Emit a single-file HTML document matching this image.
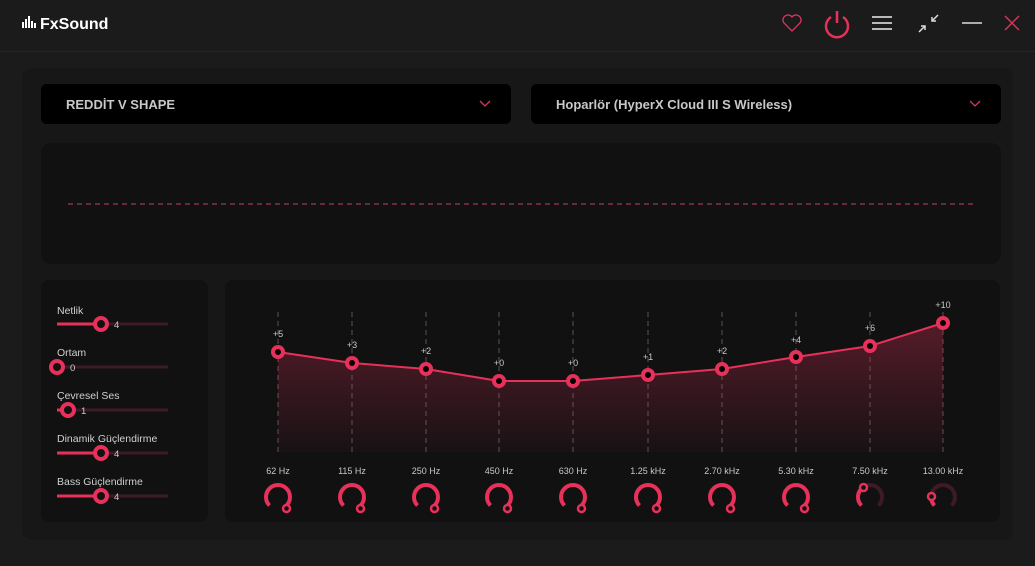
<!DOCTYPE html>
<html><head><meta charset="utf-8"><style>
html,body{margin:0;padding:0;background:#1b1b1c;}
body{width:1035px;height:561px;overflow:hidden;font-family:"Liberation Sans","DejaVu Sans",sans-serif;}
</style></head><body>
<svg width="1035" height="561" viewBox="0 0 1035 561" xmlns="http://www.w3.org/2000/svg" font-family="Liberation Sans, DejaVu Sans, sans-serif">
<defs>
<linearGradient id="g" x1="0" y1="0" x2="0" y2="1">
<stop offset="0" stop-color="#e8315a" stop-opacity="0.32"/>
<stop offset="1" stop-color="#e8315a" stop-opacity="0.03"/>
</linearGradient>
</defs>
<rect width="1035" height="561" fill="#1b1b1c"/>
<rect x="0" y="51" width="1035" height="1" fill="#262627"/>
<!-- logo -->
<g fill="#fff"><rect x="22" y="22" width="2" height="6"/><rect x="25" y="19" width="2" height="9"/><rect x="28" y="16" width="2" height="12"/><rect x="31" y="21" width="2" height="7"/><rect x="34" y="23" width="2" height="5"/></g>
<text x="40" y="29" fill="#fff" font-size="16" font-weight="bold">FxSound</text>
<!-- top icons -->
<path d="M792 31 L784 23 A4.5 4.5 0 0 1 792 17 A4.5 4.5 0 0 1 800 23 Z" fill="none" stroke="#d8355c" stroke-width="1.3"/>
<path d="M831 17 A11 11 0 1 0 843 17" fill="none" stroke="#e8315a" stroke-width="2.5"/>
<line x1="837" y1="11" x2="837" y2="23" stroke="#e8315a" stroke-width="2.5"/>
<g stroke="#eee" stroke-width="1.5"><line x1="872" y1="17" x2="892" y2="17"/><line x1="872" y1="23" x2="892" y2="23"/><line x1="872" y1="29" x2="892" y2="29"/></g>
<g stroke="#ddd" stroke-width="1.5" fill="none"><line x1="938" y1="15" x2="932" y2="21"/><path d="M932 17 V21 H936"/><line x1="919" y1="32" x2="925" y2="26"/><path d="M921 26 H925 V30"/></g>
<line x1="962" y1="23" x2="982" y2="23" stroke="#ddd" stroke-width="1.5"/>
<g stroke="#d8355c" stroke-width="1.5"><line x1="1005" y1="16" x2="1019" y2="30"/><line x1="1019" y1="16" x2="1005" y2="30"/></g>
<!-- main panel -->
<rect x="22" y="68" width="991" height="472" rx="10" fill="#171717"/>
<rect x="41" y="84" width="470" height="40" rx="6" fill="#000"/>
<text x="66" y="109" fill="#c8c8c8" font-size="13" font-weight="bold">REDDİT V SHAPE</text>
<path d="M480 101 L485 106 L490 101" fill="none" stroke="#d8355c" stroke-width="1.3"/>
<rect x="531" y="84" width="470" height="40" rx="6" fill="#000"/>
<text x="556" y="109" fill="#c8c8c8" font-size="13" font-weight="bold">Hoparlör (HyperX Cloud III S Wireless)</text>
<path d="M970 101 L975 106 L980 101" fill="none" stroke="#d8355c" stroke-width="1.3"/>
<rect x="41" y="143" width="960" height="121" rx="10" fill="#111112"/>
<line x1="68" y1="204" x2="973" y2="204" stroke="#9a3a50" stroke-width="1.3" stroke-dasharray="5,4"/>
<!-- left panel -->
<rect x="41" y="280" width="167" height="242" rx="8" fill="#111112"/>
<g font-size="10.5" fill="#d0d0d0">
<text x="57" y="314">Netlik</text>
<text x="57" y="356">Ortam</text>
<text x="57" y="399">Çevresel Ses</text>
<text x="57" y="442">Dinamik Güçlendirme</text>
<text x="57" y="485">Bass Güçlendirme</text>
</g>
<g>
<line x1="57" y1="324" x2="168" y2="324" stroke="#3d1a24" stroke-width="3"/><line x1="57" y1="324" x2="101" y2="324" stroke="#e8315a" stroke-width="3"/><circle cx="101" cy="324" r="6" fill="#111" stroke="#e8315a" stroke-width="4"/><text x="114" y="328" font-size="9.5" fill="#ccc">4</text>
<line x1="57" y1="367" x2="168" y2="367" stroke="#3d1a24" stroke-width="3"/><circle cx="57" cy="367" r="6" fill="#111" stroke="#e8315a" stroke-width="4"/><text x="70" y="371" font-size="9.5" fill="#ccc">0</text>
<line x1="57" y1="410" x2="168" y2="410" stroke="#3d1a24" stroke-width="3"/><line x1="57" y1="410" x2="68" y2="410" stroke="#e8315a" stroke-width="3"/><circle cx="68" cy="410" r="6" fill="#111" stroke="#e8315a" stroke-width="4"/><text x="81" y="414" font-size="9.5" fill="#ccc">1</text>
<line x1="57" y1="453" x2="168" y2="453" stroke="#3d1a24" stroke-width="3"/><line x1="57" y1="453" x2="101" y2="453" stroke="#e8315a" stroke-width="3"/><circle cx="101" cy="453" r="6" fill="#111" stroke="#e8315a" stroke-width="4"/><text x="114" y="457" font-size="9.5" fill="#ccc">4</text>
<line x1="57" y1="496" x2="168" y2="496" stroke="#3d1a24" stroke-width="3"/><line x1="57" y1="496" x2="101" y2="496" stroke="#e8315a" stroke-width="3"/><circle cx="101" cy="496" r="6" fill="#111" stroke="#e8315a" stroke-width="4"/><text x="114" y="500" font-size="9.5" fill="#ccc">4</text>
</g>
<!-- EQ panel -->
<rect x="225" y="280" width="775" height="242" rx="8" fill="#111112"/>
<g stroke="#55555a" stroke-width="1" stroke-dasharray="5,4">
<line x1="278" y1="312" x2="278" y2="452"/><line x1="352" y1="312" x2="352" y2="452"/><line x1="426" y1="312" x2="426" y2="452"/><line x1="499" y1="312" x2="499" y2="452"/><line x1="573" y1="312" x2="573" y2="452"/><line x1="648" y1="312" x2="648" y2="452"/><line x1="722" y1="312" x2="722" y2="452"/><line x1="796" y1="312" x2="796" y2="452"/><line x1="870" y1="312" x2="870" y2="452"/><line x1="943" y1="312" x2="943" y2="452"/>
</g>
<path d="M278 352 L352 363 L426 369 L499 381 L573 381 L648 375 L722 369 L796 357 L870 346 L943 323 L943 452 L278 452 Z" fill="url(#g)"/>
<polyline points="278,352 352,363 426,369 499,381 573,381 648,375 722,369 796,357 870,346 943,323" fill="none" stroke="#e8315a" stroke-width="2"/>
<g fill="#000" stroke="#e8315a" stroke-width="4">
<circle cx="278" cy="352" r="5"/><circle cx="352" cy="363" r="5"/><circle cx="426" cy="369" r="5"/><circle cx="499" cy="381" r="5"/><circle cx="573" cy="381" r="5"/><circle cx="648" cy="375" r="5"/><circle cx="722" cy="369" r="5"/><circle cx="796" cy="357" r="5"/><circle cx="870" cy="346" r="5"/><circle cx="943" cy="323" r="5"/>
</g>
<g font-size="9" fill="#c8c8c8" text-anchor="middle">
<text x="278" y="337">+5</text><text x="352" y="348">+3</text><text x="426" y="354">+2</text><text x="499" y="366">+0</text><text x="573" y="366">+0</text><text x="648" y="360">+1</text><text x="722" y="354">+2</text><text x="796" y="343">+4</text><text x="870" y="331">+6</text><text x="943" y="308">+10</text>
</g>
<g font-size="9" fill="#c8c8c8" text-anchor="middle">
<text x="278" y="474">62 Hz</text><text x="352" y="474">115 Hz</text><text x="426" y="474">250 Hz</text><text x="499" y="474">450 Hz</text><text x="573" y="474">630 Hz</text><text x="648" y="474">1.25 kHz</text><text x="722" y="474">2.70 kHz</text><text x="796" y="474">5.30 kHz</text><text x="870" y="474">7.50 kHz</text><text x="943" y="474">13.00 kHz</text>
</g>
<!-- knobs -->
<g fill="none" stroke="#e8315a" stroke-width="4">
<path d="M269.5 505.5 A12 12 0 1 1 286.5 505.5"/>
<path d="M343.5 505.5 A12 12 0 1 1 360.5 505.5"/>
<path d="M417.5 505.5 A12 12 0 1 1 434.5 505.5"/>
<path d="M490.5 505.5 A12 12 0 1 1 507.5 505.5"/>
<path d="M564.5 505.5 A12 12 0 1 1 581.5 505.5"/>
<path d="M639.5 505.5 A12 12 0 1 1 656.5 505.5"/>
<path d="M713.5 505.5 A12 12 0 1 1 730.5 505.5"/>
<path d="M787.5 505.5 A12 12 0 1 1 804.5 505.5"/>
<path d="M863.1 487.2 A12 12 0 0 1 878.5 505.5" stroke="#3d1a24"/>
<path d="M861.5 505.5 A12 12 0 0 1 863.1 487.2"/>
<path d="M931.7 492.9 A12 12 0 1 1 951.5 505.5" stroke="#3d1a24"/>
<path d="M934.5 505.5 A12 12 0 0 1 931.7 492.9"/>
</g>
<g fill="#111" stroke="#e8315a" stroke-width="2.5">
<circle cx="286.5" cy="508.5" r="3.5"/><circle cx="360.5" cy="508.5" r="3.5"/><circle cx="434.5" cy="508.5" r="3.5"/><circle cx="507.5" cy="508.5" r="3.5"/><circle cx="581.5" cy="508.5" r="3.5"/><circle cx="656.5" cy="508.5" r="3.5"/><circle cx="730.5" cy="508.5" r="3.5"/><circle cx="804.5" cy="508.5" r="3.5"/><circle cx="863.5" cy="487.5" r="3.5"/><circle cx="931.5" cy="496.5" r="3.5"/>
</g>
</svg>
</body></html>
